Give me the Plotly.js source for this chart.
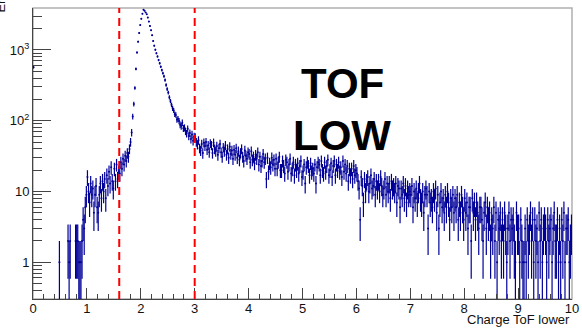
<!DOCTYPE html>
<html>
<head>
<meta charset="utf-8">
<script src="https://cdn.plot.ly/plotly-3.0.1.min.js"></script>
<style>
html,body{margin:0;padding:0;background:#fff;}
#chart{width:582px;height:328px;}
</style>
</head>
<body>
<div id="chart"></div>
<script>
// Histogram "Charge ToF lower": 500 bins from 0 to 10 (bin width 0.02)
var binStart = 0;
var binWidth = 0.02;
var counts = [
  570,0,0,0,0, 0,0,0,0,0,
  0,0,0,0,0, 0,0,0,0,0,
  0,0,0,0,1, 0,0,0,0,0,
  0,0,2,1,2, 0,0,0,0,2,
  2,2,1,1,1, 2,4,3,6,9,
  16,10,7,13,9, 11,5,9,12,6,
  5,9,13,8,14, 10,15,8,17,12,
  19,13,22,14,11, 21,14,24,15,19,
  18,26,21,29,24, 32,27,35,31,40,
  50,68,115,172,290, 540,920,1310,1740,2250,
  2750,3250,3700,3580,3380, 3200,2870,2520,2180,1900,
  1620,1340,1150,1010,900, 810,720,650,580,520,
  470,425,375,320,280, 250,215,190,168,150,
  140,124,121,104,106, 99,88,84,94,78,
  80,71,66,77,61, 67,55,64,52,60,
  59,50,46,53,41, 38,47,35,49,44,
  50,39,45,36,48, 45,35,49,40,37,
  44,33,41,47,36, 31,42,37,45,33,
  40,30,43,34,38, 29,39,33,41,30,
  37,28,35,40,31, 27,38,32,29,36,
  34,26,37,28,31, 25,33,29,36,24,
  31,23,27,34,26, 29,15,30,19,25,
  22,30,24,28,21, 29,21,26,31,20,
  20,27,23,18,28, 26,19,24,29,18,
  21,26,17,24,20, 25,18,23,27,16,
  19,24,13,22,26, 23,17,25,19,21,
  18,24,13,22,26, 24,17,27,20,18,
  26,19,23,28,17, 20,25,16,23,27,
  17,24,20,26,19, 22,16,27,19,24,
  18,23,14,21,17, 21,15,23,17,20,
  18,14,11,4,16, 12,7,15,10,14,
  16,10,13,17,11, 12,15,9,14,11,
  14,10,16,12,9, 11,15,9,13,10,
  13,8,14,11,12, 10,13,7,12,11,
  6,11,9,13,8, 12,7,11,9,10,
  9,12,6,10,8, 11,7,10,13,8,
  7,10,5,9,11, 9,3,10,7,8,
  6,10,8,11,5, 9,3,7,10,6,
  8,5,9,6,10, 7,4,8,6,9,
  5,8,6,9,4, 7,5,9,6,4,
  8,5,7,3,6, 6,2,8,5,7,
  4,7,5,3,6, 6,4,2,5,7,
  3,6,4,5,2, 4,3,6,2,5,
  1,4,3,5,2, 4,2,5,3,1,
  3,5,2,4,3, 4,2,1,5,3,
  3,1,4,2,1, 1,3,1,4,2,
  3,5,2,4,1, 4,2,3,1,5,
  2,4,1,3,4, 3,1,4,2,3,
  4,1,3,5,2, 2,4,1,3,1,
  4,2,5,1,3, 3,4,1,2,3
];
// Cut positions (red dashed lines)
var cutValues = [1.6, 3.0];
// Tick labels
var xTickVals = [0,1,2,3,4,5,6,7,8,9,10];
var xTickText = ['0','1','2','3','4','5','6','7','8','9','10'];
var yTickVals = [1,10,100,1000];
var yTickText = ['1','10','10<sup>2</sup>','10<sup>3</sup>'];
var xTitle = 'Charge ToF lower';
var yTitle = 'Entries';
var label = ['TOF','LOW'];

var xs = [], ys = [], errs = [];
for (var i = 0; i < counts.length; i++) {
  if (counts[i] > 0) {
    xs.push(binStart + (i + 0.5) * binWidth);
    ys.push(counts[i]);
    errs.push(Math.sqrt(counts[i])); // Poisson error, as ROOT draws
  }
}

var histColor = '#000099';
var font = 'Liberation Sans, Arial, sans-serif';

var trace = {
  type: 'scatter',
  mode: 'markers',
  x: xs, y: ys,
  marker: {size: 2, color: histColor},
  error_y: {type: 'data', array: errs, arrayminus: errs, visible: true,
            thickness: 1.2, width: 0, color: histColor},
  hoverinfo: 'skip',
  showlegend: false,
  cliponaxis: true
};

var shapes = [{
  type: 'rect', xref: 'paper', yref: 'paper', x0: 0, x1: 1, y0: 0, y1: 1,
  line: {color: '#b0b0b0', width: 1.5}, layer: 'below'
}];
cutValues.forEach(function (c) {
  shapes.push({type: 'line', xref: 'x', yref: 'paper', x0: c, x1: c, y0: 0, y1: 1,
    line: {color: '#ff0000', width: 2, dash: '8px,5px'}});
});

var layout = {
  width: 582, height: 328,
  margin: {l: 33, r: 10, t: 8, b: 29, pad: 0},
  paper_bgcolor: '#ffffff', plot_bgcolor: '#ffffff',
  font: {family: font, size: 13, color: '#111'},
  xaxis: {
    range: [0, 10], tickmode: 'array', tickvals: xTickVals, ticktext: xTickText,
    ticks: 'inside', ticklen: 11, tickwidth: 1, tickcolor: '#444',
    ticklabelstandoff: -3,
    minor: {ticks: 'inside', ticklen: 5, tickwidth: 1, tickcolor: '#444', tickmode: 'linear', tick0: 0, dtick: 0.2},
    showline: true, linecolor: '#444', linewidth: 1,
    showgrid: false, zeroline: false,
    tickfont: {family: font, size: 13, color: '#111'}
  },
  yaxis: {
    type: 'log', range: [-0.519, 3.593], tickmode: 'array', tickvals: yTickVals, ticktext: yTickText,
    ticks: 'inside', ticklen: 18, tickwidth: 1, tickcolor: '#444',
    minor: {ticks: 'inside', ticklen: 9, tickwidth: 1, tickcolor: '#444', tickmode: 'linear', dtick: 'D1'},
    showline: true, linecolor: '#444', linewidth: 1,
    showgrid: false, zeroline: false,
    tickfont: {family: font, size: 13, color: '#111'}
  },
  shapes: shapes,
  annotations: [
    {text: xTitle, xref: 'paper', yref: 'paper', x: 1, y: -0.0704, xanchor: 'right', yanchor: 'middle',
     showarrow: false, font: {family: font, size: 13, color: '#111'}},
    {text: yTitle, xref: 'paper', yref: 'paper', x: -0.0594, y: 0.979, xanchor: 'center', yanchor: 'bottom',
     textangle: -90, showarrow: false, font: {family: font, size: 13, color: '#111'}},
    {text: '<b>' + label[0] + '</b>', xref: 'paper', yref: 'paper', x: 0.5742, y: 0.7395,
     xanchor: 'center', yanchor: 'middle', showarrow: false, font: {family: font, size: 42, color: '#000'}},
    {text: '<b>' + label[1] + '</b>', xref: 'paper', yref: 'paper', x: 0.5742, y: 0.5619,
     xanchor: 'center', yanchor: 'middle', showarrow: false, font: {family: font, size: 42, color: '#000'}}
  ]
};

Plotly.newPlot('chart', [trace], layout, {staticPlot: true, displayModeBar: false});
</script>
</body>
</html>
